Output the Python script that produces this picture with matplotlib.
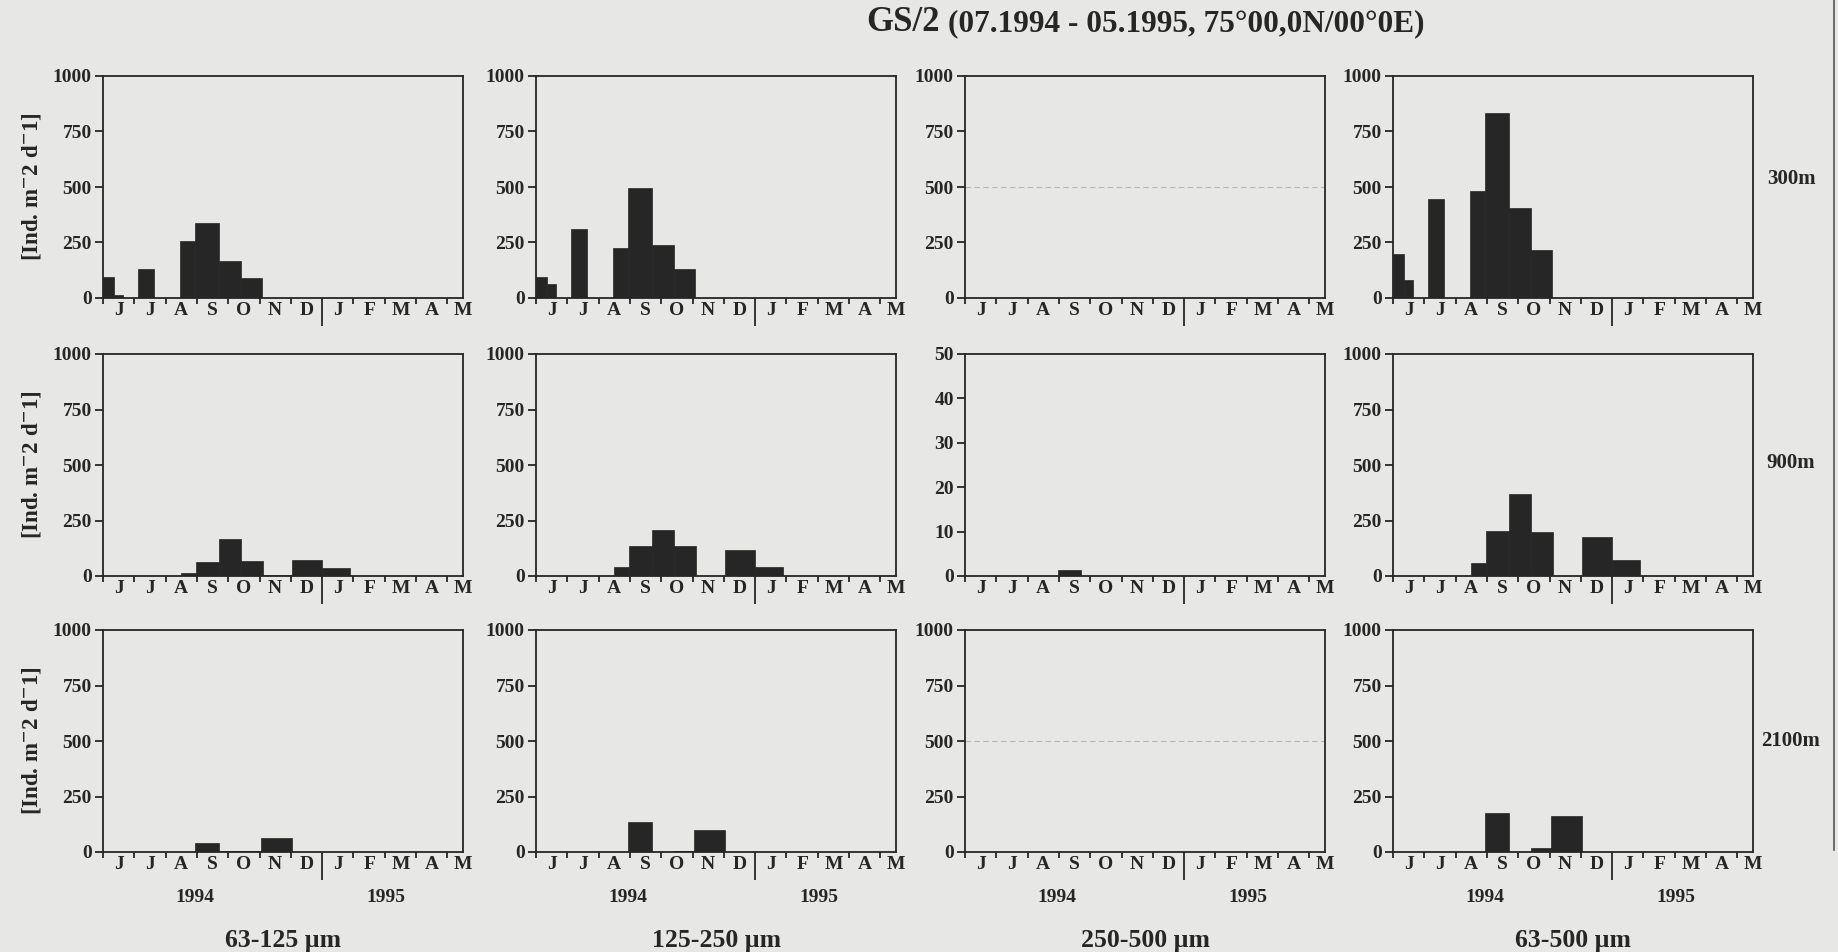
import matplotlib
matplotlib.use('Agg')
from matplotlib import pyplot as plt
from matplotlib.lines import Line2D

# months since 1 June 1994, axis runs J J A S O N D | J F M A M
months = ['J', 'J', 'A', 'S', 'O', 'N', 'D', 'J', 'F', 'M', 'A', 'M']
sizes = ['63-125 µm', '125-250 µm', '250-500 µm', '63-500 µm']
depths = ['300m', '900m', '2100m']
years = ['1994', '1995']

# sampling intervals (cup open / close, in months from 1 June 1994)
cup_start_300 = [0.00, 0.35, 1.12, 2.47, 2.95, 3.71, 4.40]
cup_end_300 = [0.35, 0.64, 1.62, 2.95, 3.71, 4.40, 5.07]
cup_start_900 = [2.50, 2.97, 3.71, 4.42, 5.12, 6.04, 7.00]
cup_end_900 = [2.97, 3.71, 4.42, 5.12, 6.04, 7.00, 7.90]
cup_start_2100 = [2.95, 3.72, 4.40, 5.05]
cup_end_2100 = [3.72, 4.40, 5.05, 6.05]

# flux [Ind. m-2 d-1]
v300_63_125 = [95, 15, 130, 255, 340, 165, 88]
v300_125_250 = [95, 65, 310, 225, 495, 240, 130]
v300_250_500 = [0, 0, 0, 0, 0, 0, 0]
v300_63_500 = [198, 83, 444, 484, 835, 406, 214]

v900_63_125 = [12, 63, 165, 67, 3, 70, 37]
v900_125_250 = [42, 135, 207, 135, 0, 116, 42]
v900_250_500 = [0, 1.4, 0, 0, 0, 0, 0]
v900_63_500 = [58, 201, 371, 198, 0, 176, 70]

v2100_63_125 = [39, 3, 3, 62]
v2100_125_250 = [135, 0, 5, 100]
v2100_250_500 = [0, 0, 0, 0]
v2100_63_500 = [175, 0, 18, 160]

rows = [
    (cup_start_300, cup_end_300, [v300_63_125, v300_125_250, v300_250_500, v300_63_500]),
    (cup_start_900, cup_end_900, [v900_63_125, v900_125_250, v900_250_500, v900_63_500]),
    (cup_start_2100, cup_end_2100, [v2100_63_125, v2100_125_250, v2100_250_500, v2100_63_500]),
]
ymax = [[1000, 1000, 1000, 1000], [1000, 1000, 50, 1000], [1000, 1000, 1000, 1000]]

plt.rcParams['font.family'] = ['Liberation Serif', 'DejaVu Serif']
plt.rcParams['font.weight'] = 'bold'
plt.rcParams['mathtext.fontset'] = 'stix'
plt.rcParams['axes.linewidth'] = 1.3

paper = '#e7e7e5'
ink = '#262626'

W, H = 1838, 952
fig = plt.figure(figsize=(W / 100, H / 100), dpi=100, facecolor=paper)

col_left = [103, 536, 965, 1393]
row_top = [76, 354, 630]
ax_w, ax_h = 360, 222

for r in range(3):
    start, end, series = rows[r]
    width = [e - s for s, e in zip(start, end)]
    for c in range(4):
        ax = fig.add_axes([col_left[c] / W, 1 - (row_top[r] + ax_h) / H, ax_w / W, ax_h / H])
        ax.set_facecolor('none')
        ax.bar(start, series[c], width=width, align='edge', color=ink, edgecolor=ink, linewidth=0.5)
        top = ymax[r][c]
        ax.set_ylim(0, top)
        ax.set_xlim(0, 11.45)
        step = 10 if top == 50 else 250
        ax.set_yticks(range(0, top + 1, step))
        ax.set_xticks(range(12))
        ax.set_xticks([m + 0.5 for m in range(12)], minor=True)
        ax.set_xticklabels([])
        ax.set_xticklabels(months, minor=True)
        ax.tick_params(axis='x', which='major', direction='out', length=4, width=1.3, color=ink)
        ax.tick_params(axis='x', which='minor', length=0, pad=3, labelsize=14, labelcolor=ink)
        ax.tick_params(axis='y', direction='out', length=6, width=1.3, labelsize=14, pad=2,
                       color=ink, labelcolor=ink)
        # year break D | J
        ax.xaxis.get_major_ticks()[7].tick1line.set_markersize(20)
        for sp in ax.spines.values():
            sp.set_color(ink)
        if c == 2 and top == 1000:
            ax.axhline(500, color='#9a9a9a', lw=0.8, ls=(0, (5, 3)), alpha=0.6)
        if r == 2:
            for i, yr in enumerate(years):
                ax.annotate(yr, xy=([2.95, 9.05][i], 0), xycoords=('data', 'axes fraction'),
                            xytext=(0, -33), textcoords='offset points', ha='center', va='center',
                            fontsize=14, color=ink)
            fig.text((col_left[c] + ax_w / 2) / W, 1 - 941 / H, sizes[c], ha='center', va='center',
                     fontsize=18.5, color=ink)
        if c == 0:
            fig.text(32 / W, 1 - (row_top[r] + ax_h / 2) / H, r'[Ind. m$^{-}$2 d$^{-}$1]',
                     rotation=90, ha='center', va='center', fontsize=16.5, color=ink)
    fig.text(1791 / W, 1 - [179, 463, 741][r] / H, depths[r], ha='center', va='center',
             fontsize=15, color=ink)

fig.text(940 / W, 1 - 31 / H, 'GS/2', ha='right', va='baseline', fontsize=25, color=ink)
fig.text(948 / W, 1 - 31 / H, '(07.1994 - 05.1995, 75°00,0N/00°0E)', ha='left', va='baseline',
         fontsize=22.5, color=ink)

# edge of the scanned page
fig.add_artist(Line2D([1834 / W, 1834 / W], [1 - 850 / H, 1.0], transform=fig.transFigure,
                      color='#555555', lw=1.2))

fig.savefig('out.png', dpi=100, facecolor=paper)
